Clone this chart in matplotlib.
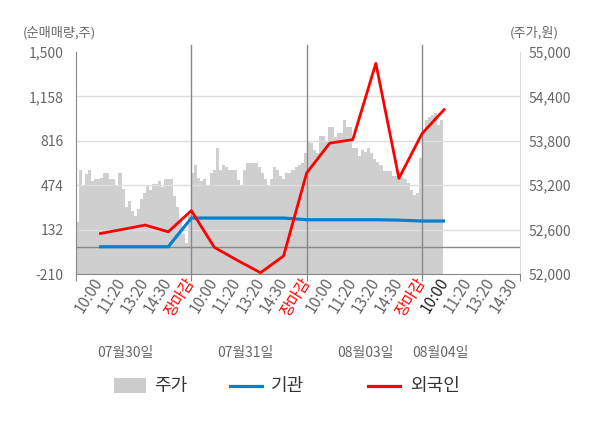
import numpy as np
import matplotlib
matplotlib.use("Agg")
import matplotlib.pyplot as plt
from matplotlib.patches import Rectangle
from matplotlib.lines import Line2D
import matplotlib.transforms as mtransforms

plt.rcParams['font.family'] = ['Noto Sans CJK KR', 'DejaVu Sans']

# ---------------- data ----------------
slot_labels = ["10:00", "11:20", "13:20", "14:30", "장마감",
               "10:00", "11:20", "13:20", "14:30", "장마감",
               "10:00", "11:20", "13:20", "14:30", "장마감",
               "10:00", "11:20", "13:20", "14:30"]
date_labels = ["07월30일", "07월31일", "08월03일", "08월04일"]

institution = [0, 0, 0, 0, 221, 221, 221, 221, 221, 208, 208, 208, 208, 205, 198, 198]
foreign = [100, 133, 167, 115, 278, -5, -105, -200, -71, 568, 798, 825, 1413, 527, 871, 1064]

price_day1 = [52700, 53400, 53200, 53350, 53400, 53260, 53290, 53290, 53300, 53370,
              53370, 53290, 53290, 53200, 53370, 53150, 52900, 52990, 52850, 52790,
              52880, 53020, 53090, 53200, 53130, 53220, 53220, 53260, 53170, 53290,
              53290, 53290, 53060, 52900, 52720, 52540, 52420, 52800]
price_day2 = [53360, 53470, 53300, 53250, 53290, 53200, 53370, 53400, 53700, 53400,
              53470, 53450, 53400, 53400, 53400, 53270, 53200, 53400, 53500, 53500,
              53500, 53500, 53450, 53370, 53290, 53200, 53290, 53450, 53400, 53320,
              53290, 53370, 53370, 53400, 53450, 53470, 53500, 53630]
price_day3 = [53800, 53765, 53670, 53630, 53870, 53870, 53780, 53980, 53980, 53850,
              53900, 53900, 54080, 53980, 53980, 53700, 53700, 53600, 53670, 53650,
              53700, 53630, 53560, 53520, 53470, 53390, 53390, 53390, 53330, 53320,
              53300, 53300, 53280, 53230, 53140, 53070, 53100, 53570]
price_day4 = [53940, 54080, 54120, 54150, 54170, 54010, 54080]

vol_ticks = [-210, 132, 474, 816, 1158, 1500]
price_ticks = [52000, 52600, 53200, 53800, 54400, 55000]

# ---------------- layout ----------------
W, H = 600, 428
SLOTS_PER_DAY = 5
SAMPLES_PER_DAY = 38
XMAX = 19.25

fig = plt.figure(figsize=(W / 100, H / 100), dpi=100)
ax = fig.add_axes([76 / W, 1 - 274 / H, 444 / W, 222 / H])
ax2 = ax.twinx()
ax.set_zorder(ax2.get_zorder() + 1)
ax.patch.set_visible(False)
ax2.set_facecolor('#f4f4f4')

# price area (right axis)
xs, ys = [], []
for d, vals in enumerate([price_day1, price_day2, price_day3, price_day4]):
    n = len(vals)
    xs.extend(d * SLOTS_PER_DAY + SLOTS_PER_DAY * np.arange(n) / SAMPLES_PER_DAY)
    ys.extend(vals)
xs.append(xs[-1] + SLOTS_PER_DAY / SAMPLES_PER_DAY)
ys.append(ys[-1])
ax2.fill_between(xs, ys, price_ticks[0], step='post', color='#cfcfcf', lw=0)
ax2.set_ylim(price_ticks[0], price_ticks[-1])
ax2.set_yticks(price_ticks, labels=[f"{v:,}" for v in price_ticks])
ax2.tick_params(axis='y', length=0, pad=6, labelcolor='#666666', labelsize=10)
for s in ['left', 'top', 'bottom']:
    ax2.spines[s].set_visible(False)
ax2.spines['right'].set_color('#dddddd')

# left axis
ax.set_xlim(0, XMAX)
ax.set_ylim(vol_ticks[0], vol_ticks[-1])
ax.set_yticks(vol_ticks, labels=[f"{v:,}" for v in vol_ticks])
ax.tick_params(axis='y', length=0, pad=9, labelcolor='#666666', labelsize=10)
for v in vol_ticks[1:-1]:
    ax.axhline(v, color='#dddddd', lw=1, zorder=1)
ax.axhline(0, color='#888888', lw=1, zorder=1.5)
for s in ['top', 'right']:
    ax.spines[s].set_visible(False)
ax.spines['left'].set_color('#888888')
ax.spines['bottom'].set_color('#888888')

# day separators
for b in [5, 10, 15]:
    ax.axvline(b, color='#888888', lw=1, ymax=1.03, clip_on=False, zorder=1.5)

ax.xaxis.remove_overlapping_locs = False
ax.set_xticks([0, 5, 10, 15, XMAX], labels=[''] * 5)
ax.tick_params(axis='x', which='major', length=5, color='#888888')
slots = np.arange(1, len(slot_labels) + 1)
ax.set_xticks(slots, labels=slot_labels, minor=True)
ax.tick_params(axis='x', which='minor', length=0, pad=4, labelsize=11)
for i, lab in enumerate(ax.get_xticklabels(minor=True)):
    lab.set_rotation(58)
    lab.set_rotation_mode('anchor')
    lab.set_ha('right')
    lab.set_va('center')
    if slot_labels[i] == "장마감":
        lab.set_color('#ff0000')
    elif i == 15:
        lab.set_color('#222222')
    else:
        lab.set_color('#666666')

# lines
line_x = np.arange(1, len(foreign) + 1)
ax.plot(line_x, institution, color='#0a80cc', lw=2.3, zorder=3, solid_capstyle='butt')
ax.plot(line_x, foreign, color='#ff0000', lw=2.0, zorder=4, solid_capstyle='butt')

# date labels
date_pos = [2.12, 7.33, 12.53, 15.78]
trans = mtransforms.blended_transform_factory(ax.transData, fig.transFigure)
for p, t in zip(date_pos, date_labels):
    ax.text(p, 1 - 353 / H, t, transform=trans, ha='center', va='center',
            color='#666666', fontsize=10)

# axis titles
fig.text(23 / W, 1 - 33 / H, '(순매매량,주)', ha='left', va='center', color='#666666', fontsize=9.5)
fig.text(510 / W, 1 - 33 / H, '(주가,원)', ha='left', va='center', color='#666666', fontsize=9.5)

# legend (manual)
ly = 1 - 386 / H
fig.add_artist(Rectangle((114 / W, 1 - 393 / H), 32 / W, 15 / H,
                         transform=fig.transFigure, color='#cccccc', lw=0))
fig.text(154 / W, ly, '주가', ha='left', va='center', color='#333333', fontsize=13)
fig.add_artist(Line2D([230 / W, 262 / W], [ly, ly], transform=fig.transFigure,
                      color='#0a80cc', lw=2.3))
fig.text(271 / W, ly, '기관', ha='left', va='center', color='#333333', fontsize=13)
fig.add_artist(Line2D([368 / W, 400 / W], [ly, ly], transform=fig.transFigure,
                      color='#ff0000', lw=2.3))
fig.text(410 / W, ly, '외국인', ha='left', va='center', color='#333333', fontsize=13)

fig.savefig('out.png', dpi=100)
